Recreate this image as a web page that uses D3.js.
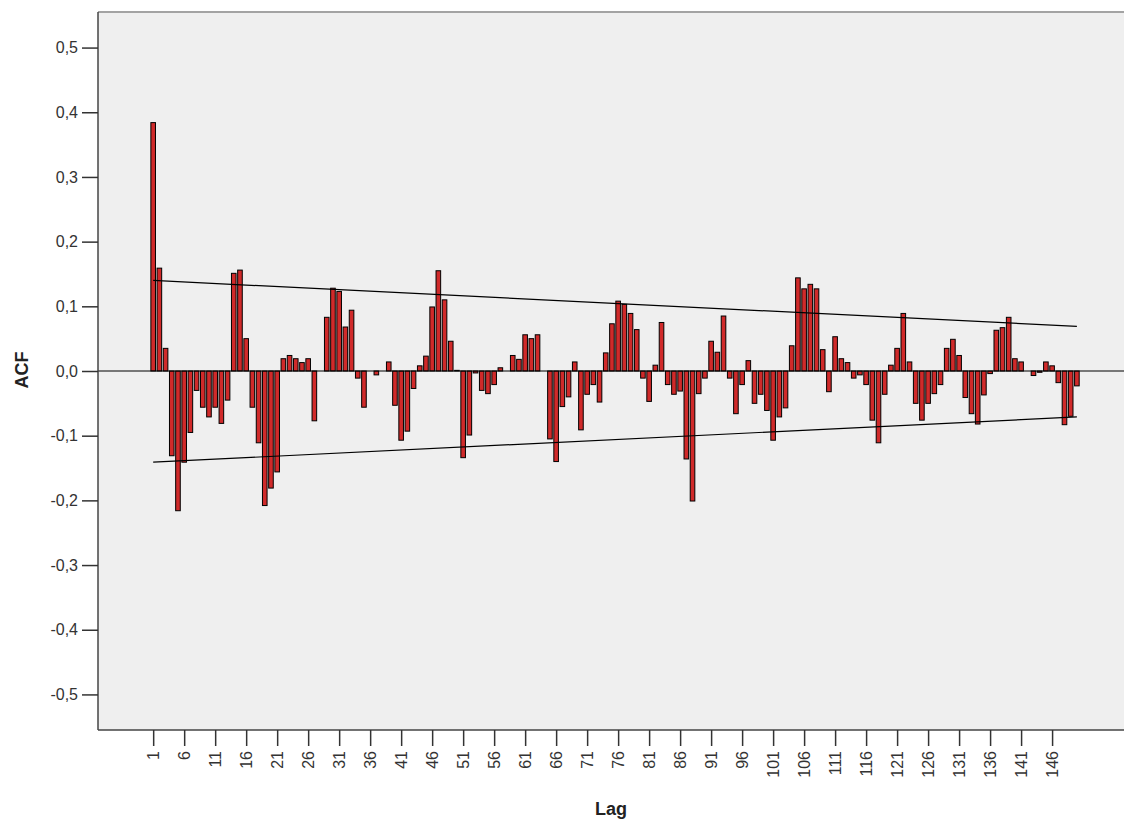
<!DOCTYPE html>
<html>
<head>
<meta charset="utf-8">
<script src="https://cdn.jsdelivr.net/npm/d3@7"></script>
<style>
  body { margin: 0; background: #fff; }
  text { font-family: "Liberation Sans", Arial, sans-serif; }
</style>
</head>
<body>
<svg id="chart" width="1124" height="822"></svg>
<script>
// ACF values, lag 1..150
const acf = [
  0.384, 0.159, 0.035, -0.131, -0.216, -0.141, -0.095, -0.030, -0.056, -0.071,
  -0.056, -0.081, -0.045, 0.151, 0.156, 0.050, -0.056, -0.111, -0.208, -0.181,
  -0.156, 0.019, 0.024, 0.019, 0.013, 0.019, -0.077, 0.000, 0.083, 0.128,
  0.123, 0.068, 0.094, -0.011, -0.056, 0.000, -0.006, 0.000, 0.014, -0.053,
  -0.107, -0.093, -0.027, 0.008, 0.023, 0.099, 0.155, 0.110, 0.046, 0.001,
  -0.134, -0.099, -0.003, -0.030, -0.035, -0.021, 0.005, 0.000, 0.024, 0.018,
  0.056, 0.050, 0.056, 0.000, -0.105, -0.140, -0.055, -0.040, 0.014, -0.091,
  -0.036, -0.021, -0.048, 0.028, 0.073, 0.108, 0.103, 0.089, 0.064, -0.011,
  -0.047, 0.009, 0.075, -0.021, -0.036, -0.031, -0.136, -0.201, -0.035, -0.011,
  0.046, 0.029, 0.085, -0.011, -0.066, -0.021, 0.016, -0.050, -0.036, -0.061,
  -0.107, -0.071, -0.057, 0.039, 0.144, 0.127, 0.134, 0.127, 0.033, -0.032,
  0.053, 0.019, 0.013, -0.011, -0.006, -0.021, -0.076, -0.111, -0.036, 0.009,
  0.035, 0.089, 0.014, -0.050, -0.076, -0.050, -0.035, -0.021, 0.035, 0.049,
  0.024, -0.041, -0.066, -0.082, -0.037, -0.004, 0.063, 0.067, 0.083, 0.019,
  0.014, 0.000, -0.007, -0.002, 0.014, 0.008, -0.018, -0.083, -0.070, -0.023
];
const lags = acf.map((d, i) => i + 1);

// confidence limits at first and last lag
const limitLags = [1, 150];
const upperLimit = [0.140, 0.069];
const lowerLimit = [-0.141, -0.071];

const xTicks = [1, 6, 11, 16, 21, 26, 31, 36, 41, 46, 51, 56, 61, 66, 71, 76, 81, 86, 91, 96,
                101, 106, 111, 116, 121, 126, 131, 136, 141, 146];
const yTicks = [-0.5, -0.4, -0.3, -0.2, -0.1, 0, 0.1, 0.2, 0.3, 0.4, 0.5];

const svg = d3.select("#chart");
const pLeft = 98, pRight = 1124, pTop = 12, pBottom = 730;

const x = d3.scaleLinear().domain([-7.9, 157.6]).range([pLeft, pRight]);
const y = d3.scaleLinear().domain([-0.555, 0.555]).range([pBottom, pTop]);

// comma decimals, plain hyphen for minus
const fmt = v => d3.format(".1f")(Math.abs(v) < 1e-9 ? 0 : v)
    .replace(".", ",").replace("\u2212", "-");

// plot background
svg.append("rect")
    .attr("x", pLeft).attr("y", pTop)
    .attr("width", pRight - pLeft).attr("height", pBottom - pTop)
    .attr("fill", "#efefef");

// top border
svg.append("line")
    .attr("x1", pLeft).attr("x2", pRight)
    .attr("y1", pTop).attr("y2", pTop)
    .attr("stroke", "#a3a3a3").attr("stroke-width", 2);

// bars
const barW = 4.6;
svg.append("g").selectAll("rect")
    .data(acf)
    .enter()
    .append("rect")
    .attr("x", (d, i) => x(lags[i]) - barW / 2)
    .attr("y", d => y(Math.max(0, d)))
    .attr("width", barW)
    .attr("height", d => Math.abs(y(d) - y(0)))
    .attr("fill", "#d02a2a")
    .attr("stroke", "#000")
    .attr("stroke-width", 1);

// zero reference line
svg.append("line")
    .attr("x1", pLeft).attr("x2", pRight)
    .attr("y1", y(0)).attr("y2", y(0))
    .attr("stroke", "#000").attr("stroke-width", 1.2);

// confidence limits
const limLine = d3.line()
    .x((d, i) => x(limitLags[i]))
    .y(d => y(d));
[upperLimit, lowerLimit].forEach(lim => {
    svg.append("path")
        .attr("d", limLine(lim))
        .attr("fill", "none")
        .attr("stroke", "#000")
        .attr("stroke-width", 1.2);
});

// y axis
const yAxis = svg.append("g")
    .attr("transform", `translate(${pLeft},0)`)
    .call(d3.axisLeft(y).tickValues(yTicks).tickSize(16).tickPadding(4).tickFormat(fmt));
yAxis.select(".domain").attr("stroke", "#444").attr("stroke-width", 1.5).attr("d", `M0,${pTop}V${pBottom}`);
yAxis.selectAll(".tick line").attr("stroke", "#333").attr("stroke-width", 1.5);
yAxis.selectAll(".tick text")
    .attr("fill", "#333")
    .style("font-size", "16px");

// x axis
const xAxis = svg.append("g")
    .attr("transform", `translate(0,${pBottom})`)
    .call(d3.axisBottom(x).tickValues(xTicks).tickSize(16).tickFormat(d => d));
xAxis.select(".domain").attr("stroke", "#444").attr("stroke-width", 1.5).attr("d", `M${pLeft},0H${pRight}`);
xAxis.selectAll(".tick line").attr("stroke", "#333").attr("stroke-width", 1.5);
xAxis.selectAll(".tick text")
    .attr("fill", "#333")
    .style("font-size", "16px")
    .attr("text-anchor", "end")
    .attr("dy", "0.35em")
    .attr("transform", "translate(0,21) rotate(-90)")
    .attr("x", 0).attr("y", 0);

// axis titles
svg.append("text")
    .attr("transform", "translate(28,370) rotate(-90)")
    .attr("text-anchor", "middle")
    .style("font-size", "18px")
    .style("font-weight", "bold")
    .attr("fill", "#222")
    .text("ACF");

svg.append("text")
    .attr("x", 611).attr("y", 815)
    .attr("text-anchor", "middle")
    .style("font-size", "18px")
    .style("font-weight", "bold")
    .attr("fill", "#222")
    .text("Lag");
</script>
</body>
</html>
